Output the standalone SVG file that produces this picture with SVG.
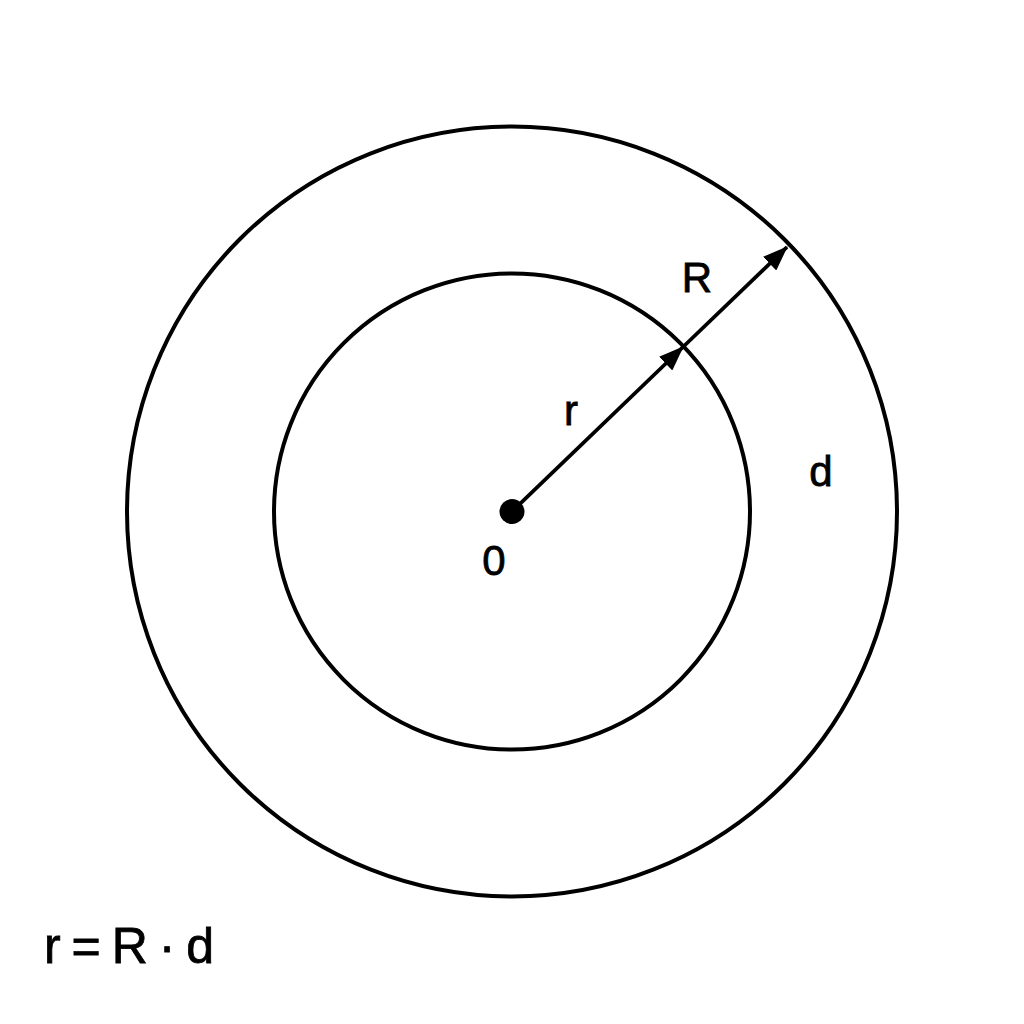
<svg xmlns="http://www.w3.org/2000/svg" width="1024" height="1024" viewBox="0 0 1024 1024">
<defs>
<style>
.c{fill:none;stroke:#000;stroke-width:4}
.l{stroke:#000;stroke-width:3.8;fill:none}
.t{font-family:"Liberation Sans","DejaVu Sans",sans-serif;fill:#000;stroke:#000;stroke-width:0.8}
</style>
<marker id="ah" viewBox="0 0 25 19" refX="24" refY="9.5" markerUnits="userSpaceOnUse" markerWidth="25" markerHeight="19" orient="auto">
<path d="M0,0 L25,9.5 L0,19 z" fill="#000"/>
</marker>
</defs>
<rect width="1024" height="1024" fill="#fff"/>
<g id="outer"><circle class="c" cx="512" cy="511.5" r="385"/></g>
<g id="inner"><circle class="c" cx="512" cy="511.5" r="238"/></g>
<g id="center"><circle cx="512" cy="511.5" r="12.5" fill="#000"/><text class="t" x="494" y="575" font-size="42" text-anchor="middle">0</text></g>
<g id="connectors">
<line class="l" x1="512" y1="511.5" x2="683" y2="347" marker-end="url(#ah)"/>
<line class="l" x1="683" y1="347" x2="787" y2="247" marker-end="url(#ah)"/>
</g>
<g id="labels">
<text class="t" x="571" y="425" font-size="42" text-anchor="middle">r</text>
<text class="t" x="697" y="292" font-size="42" text-anchor="middle">R</text>
<text class="t" x="821" y="486" font-size="42" text-anchor="middle">d</text>
<text class="t" x="44" y="963" font-size="50" word-spacing="-3">r = R · d</text>
</g>
</svg>
